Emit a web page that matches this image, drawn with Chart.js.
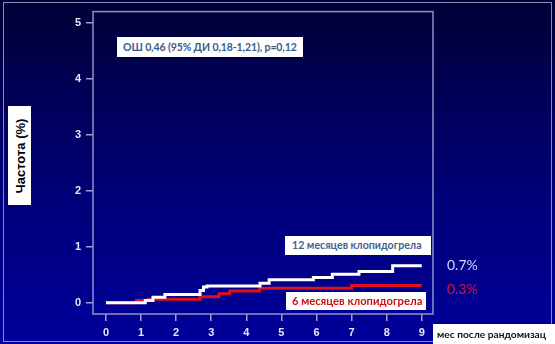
<!DOCTYPE html>
<html>
<head>
<meta charset="utf-8">
<script src="https://cdn.jsdelivr.net/npm/chart.js@4"></script>
<style>
  html, body { margin: 0; padding: 0; background: #000060; }
  #wrap { position: relative; width: 555px; height: 344px; overflow: hidden; }
  canvas { position: absolute; left: 0; top: 0; }
  .box { position: absolute; background: #ffffff; white-space: nowrap; box-sizing: border-box; overflow: hidden; }
  .cal { font-family: Lato, "Open Sans", sans-serif; font-weight: bold; }
  #annot { left: 117px; top: 37px; width: 186px; height: 20px; line-height: 20px; padding-left: 6px; font-size: 10.5px; letter-spacing: -0.1px; color: #3b5b8c; }
  #box12 { left: 285px; top: 236px; width: 146px; height: 19px; line-height: 19px; padding-left: 7px; font-size: 10.6px; color: #44618f; }
  #box6 { left: 286px; top: 292px; width: 140px; height: 18px; line-height: 18px; padding-left: 6px; font-size: 11.2px; color: #cc1010; }
  .pct { position: absolute; font-family: Lato, "Open Sans", sans-serif; font-size: 14px; white-space: nowrap; }
  #p07 { left: 447px; top: 256px; color: #d4dcf4; }
  #p03 { left: 447px; top: 280px; color: #e0142a; }
  #xtitle { left: 433px; top: 324px; width: 122px; height: 20px; line-height: 20px; padding-left: 4px; font-size: 10.2px; color: #111; }
  #ytitle { left: 8px; top: 106px; width: 23px; height: 99px; }
  #ytitle span { position: absolute; left: 50%; top: 50%; transform: translate(-50%, -50%) rotate(-90deg); font-family: "Liberation Sans", Arial, sans-serif; font-weight: bold; font-size: 13px; color: #000; white-space: nowrap; }
</style>
</head>
<body>
<div id="wrap">
  <canvas id="c" width="555" height="344"></canvas>
  <div id="annot" class="box cal">ОШ 0,46 (95% ДИ 0,18-1,21), p=0,12</div>
  <div id="box12" class="box cal">12 месяцев клопидогрела</div>
  <div id="box6" class="box cal">6 месяцев клопидогрела</div>
  <div id="p07" class="pct">0.7%</div>
  <div id="p03" class="pct">0.3%</div>
  <div id="xtitle" class="box cal">мес после рандомизац</div>
  <div id="ytitle" class="box"><span>Частота (%)</span></div>
</div>
<script>
// ---- data ----
const xTickValues = [0, 1, 2, 3, 4, 5, 6, 7, 8, 9];
const yTickValues = [0, 1, 2, 3, 4, 5];
const label12 = "12 месяцев клопидогрела";
const label6 = "6 месяцев клопидогрела";
const months12 = [0, 1.12, 1.34, 1.68, 2.68, 2.78, 2.88, 4.39, 4.65, 5.91, 6.45, 7.21, 8.17, 9.0];
const values12 = [0, 0.04, 0.10, 0.15, 0.22, 0.28, 0.30, 0.35, 0.41, 0.45, 0.51, 0.56, 0.66, 0.66];
const months6 = [0, 0.87, 1.2, 2.68, 3.22, 3.53, 4.38, 7.0, 9.0];
const values6 = [0, 0.04, 0.065, 0.11, 0.16, 0.21, 0.26, 0.31, 0.31];

const toPts = (xs, ys) => xs.map((x, i) => ({ x: x, y: ys[i] }));

const bgPlugin = {
  id: 'bg',
  beforeDraw(chart) {
    const ctx = chart.ctx;
    const g = ctx.createLinearGradient(0, 0, 0, chart.height);
    g.addColorStop(0, '#000036');
    g.addColorStop(0.5, '#000072');
    g.addColorStop(1, '#00009c');
    ctx.save();
    ctx.fillStyle = g;
    ctx.fillRect(0, 0, chart.width, chart.height);
    ctx.strokeStyle = '#8a8ab8';
    ctx.lineWidth = 1;
    ctx.strokeRect(3.5, 2.5, 548, 339);
    ctx.restore();
  },
  beforeDatasetsDraw(chart) {
    const a = chart.chartArea;
    const ctx = chart.ctx;
    ctx.save();
    ctx.strokeStyle = '#9090c8';
    ctx.lineWidth = 1.5;
    ctx.strokeRect(a.left, a.top, a.right - a.left, a.bottom - a.top);
    ctx.restore();
  }
};

new Chart(document.getElementById('c'), {
  type: 'line',
  data: {
    datasets: [
      { label: label12, data: toPts(months12, values12), borderColor: '#ffffff', borderWidth: 3,
        stepped: 'before', pointRadius: 0, fill: false },
      { label: label6, data: toPts(months6, values6), borderColor: '#e0101c', borderWidth: 3,
        stepped: 'before', pointRadius: 0, fill: false }
    ]
  },
  options: {
    responsive: false,
    devicePixelRatio: 1,
    animation: false,
    layout: { padding: { top: 9, right: 122, bottom: 0, left: 0 } },
    plugins: { legend: { display: false }, tooltip: { enabled: false } },
    scales: {
      x: {
        type: 'linear', min: -0.37, max: 9.32,
        afterBuildTicks: s => { s.ticks = xTickValues.map(v => ({ value: v })); },
        afterFit: s => { s.height = 30; },
        border: { display: false },
        grid: { drawOnChartArea: false, drawTicks: true, tickLength: 7, color: '#a0a0d4', lineWidth: 1.5 },
        ticks: { color: '#e6e6f2', padding: 5, maxRotation: 0, autoSkip: false,
                 font: { family: 'Liberation Sans', weight: 'bold', size: 11 } }
      },
      y: {
        min: -0.2, max: 5.2,
        afterBuildTicks: s => { s.ticks = yTickValues.map(v => ({ value: v })); },
        afterFit: s => { s.width = 93; },
        border: { display: false },
        grid: { drawOnChartArea: false, drawTicks: true, tickLength: 7, color: '#a0a0d4', lineWidth: 1.5 },
        ticks: { color: '#e6e6f2', padding: 5,
                 font: { family: 'Liberation Sans', weight: 'bold', size: 11 } }
      }
    }
  },
  plugins: [bgPlugin]
});
</script>
</body>
</html>
